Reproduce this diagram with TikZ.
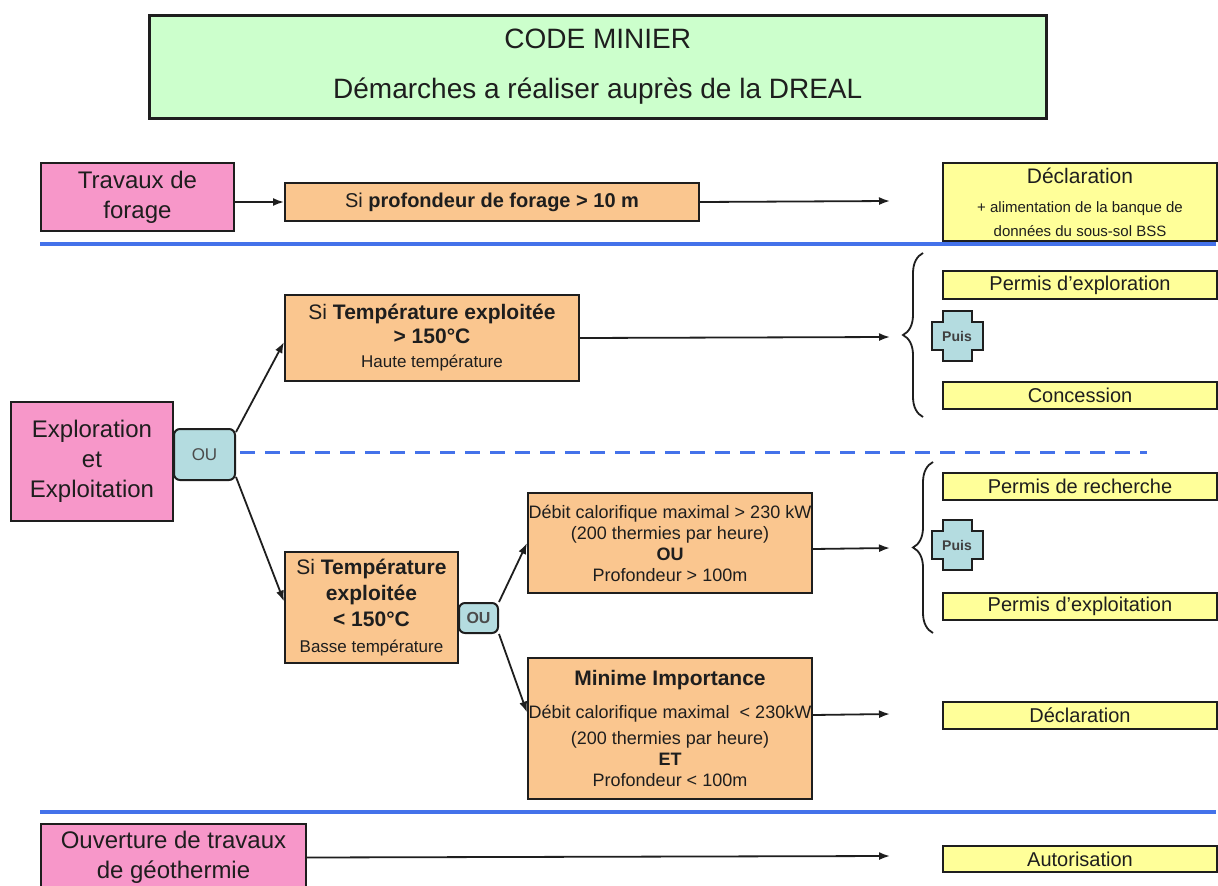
\documentclass[tikz,border=0pt]{standalone}
\usepackage{fontspec}
\setmainfont{Liberation Sans}
\usetikzlibrary{arrows.meta,decorations.pathreplacing}
\definecolor{pinkbox}{HTML}{F797C9}
\definecolor{orangebox}{HTML}{FAC68F}
\definecolor{yellowbox}{HTML}{FFFF99}
\definecolor{bluebox}{HTML}{B4DCE0}
\definecolor{greenbox}{HTML}{CCFFCC}
\definecolor{sepblue}{HTML}{4472EA}
\definecolor{ink}{HTML}{1E1E1E}
\newcommand{\fs}[2]{\fontsize{#1}{#2}\selectfont}
\begin{document}
\begin{tikzpicture}[x=1pt,y=-1pt,
  box/.style={draw=ink, line width=2pt, inner sep=0pt, anchor=north west, align=center, text=ink},
  pinkb/.style={box, fill=pinkbox, font=\fs{24}{30}},
  orangeb/.style={box, fill=orangebox},
  yellowb/.style={box, fill=yellowbox, font=\fs{20}{24}},
  oub/.style={draw=ink, line width=2pt, fill=bluebox, rounded corners=6pt, inner sep=0pt, anchor=north west, text=ink!80},
  arr/.style={draw=ink, line width=1.8pt, -{Latex[length=11pt,width=8pt]}},
  sepline/.style={draw=sepblue, line width=4pt},
  curly/.style={draw=ink, decorate, decoration={brace, amplitude=20pt}, line width=1.8pt},
  puiscross/.pic={\filldraw[fill=bluebox, draw=ink, line width=2pt]
     (-14.5,-25) -- (14.5,-25) -- (14.5,-14) -- (25.5,-14) -- (25.5,14) -- (14.5,14) -- (14.5,25)
     -- (-14.5,25) -- (-14.5,14) -- (-25.5,14) -- (-25.5,-14) -- (-14.5,-14) -- cycle;},
  puistext/.style={font=\fs{14}{16}\bfseries, text=ink!85, inner sep=0pt}
]
\useasboundingbox (0,0) rectangle (1218,886);
\fill[white] (0,0) rectangle (1218,886);

% Title
\node[box, fill=greenbox, line width=2.5pt, minimum width=897pt, minimum height=103pt, font=\fs{28}{50}] (title) at (148,14)
  {CODE MINIER\\Démarches a réaliser auprès de la DREAL};

% Row 1: forage
\node[pinkb, minimum width=193pt, minimum height=68pt] (forage) at (40,162) {Travaux de\\forage};
\node[orangeb, minimum width=414pt, minimum height=38pt, font=\fs{20}{24}] (cond1) at (284,182) {Si \textbf{profondeur de forage > 10 m}};
\node[yellowb, minimum width=274pt, minimum height=78pt] (decl1) at (942,162)
  {\fs{21}{24}Déclaration\\[5pt]\fs{15}{18}+ alimentation de la banque de\\\fs{15}{17}données du sous-sol BSS};
\coordinate (t1) at (890,201);
\draw[arr] (forage.east |- cond1) -- (cond1.west);
\draw[arr] (cond1.east) -- (t1);

\draw[sepline] (40,244) -- (1216,244);

% Exploration
\node[pinkb, minimum width=162pt, minimum height=119pt] (explo) at (10,401) {Exploration\\et\\Exploitation};
\node[oub, minimum width=61pt, minimum height=51pt, font=\fs{17}{20}] (ou1) at (173,428) {OU};

\node[orangeb, minimum width=294pt, minimum height=86pt, font=\fs{21}{24}] (hot) at (284,294)
  {Si \textbf{Température exploitée}\\\textbf{> 150°C}\\\fs{17}{21}Haute température};
\node[orangeb, minimum width=173pt, minimum height=111pt, font=\fs{21}{26}] (cold) at (284,551)
  {Si \textbf{Température}\\\textbf{exploitée}\\\textbf{< 150°C}\\\fs{17}{20}Basse température};
\node[oub, minimum width=39pt, minimum height=30pt, font=\fs{16}{18}\bfseries] (ou2) at (458,602) {OU};

\node[orangeb, minimum width=284pt, minimum height=100pt, font=\fs{18}{21}] (debit) at (527,492)
  {Débit calorifique maximal > 230 kW\\(200 thermies par heure)\\\textbf{OU}\\Profondeur > 100m};
\node[orangeb, minimum width=284pt, minimum height=141pt, font=\fs{18}{21}] (minime) at (527,657)
  {\fs{21}{24}\textbf{Minime Importance}\\[12pt]\fs{18}{21}Débit calorifique maximal\ \ < 230kW\\[5pt]\fs{18}{21}(200 thermies par heure)\\\fs{18}{21}\textbf{ET}\\\fs{18}{21}Profondeur < 100m};

\draw[arr] ([yshift=-4pt]ou1.north east) -- ([yshift=-4pt]hot.west);
\draw[arr] ([yshift=4pt]ou1.south east) -- ([yshift=6pt]cold.west);
\draw[arr] (ou2.north east) -- (debit.west);
\draw[arr] (ou2.south east) -- ([yshift=16pt]minime.west);

\coordinate (t2) at (890,337);
\coordinate (t3) at (890,548);
\coordinate (t4) at (890,714);
\draw[arr] (hot.east) -- (t2);
\draw[arr] ([yshift=-6pt]debit.east) -- (t3);
\draw[arr] ([yshift=13.5pt]minime.east) -- (t4);

% Upper results
\draw[curly] (923,417) -- (923,253);
\node[yellowb, minimum width=274pt, minimum height=28pt] (pexplo) at (942,270) {Permis d’exploration};
\node[yellowb, minimum width=274pt, minimum height=27pt] (conc) at (942,381) {Concession};
\pic at (957,336) {puiscross};
\node[puistext] (puis1) at (957,336) {Puis};

\draw[sepblue, line width=3pt, dash pattern=on 15pt off 10pt] (240,452) -- (1147,452);

% Lower results
\draw[curly] (933,633) -- (933,462);
\node[yellowb, minimum width=274pt, minimum height=27pt] (prech) at (942,472) {Permis de recherche};
\node[yellowb, minimum width=274pt, minimum height=27pt] (pexploit) at (942,592) {Permis d’exploitation};
\pic at (957,545) {puiscross};
\node[puistext] (puis2) at (957,545) {Puis};
\node[yellowb, minimum width=274pt, minimum height=27pt] (decl2) at (942,701) {Déclaration};

\draw[sepline] (40,812) -- (1216,812);

% Ouverture
\node[pinkb, minimum width=265pt, minimum height=67pt] (ouv) at (40,823) {Ouverture de travaux\\de géothermie};
\node[yellowb, minimum width=274pt, minimum height=26pt] (autor) at (942,845) {Autorisation};
\coordinate (t5) at (890,856);
\draw[arr] (ouv.east) -- (t5);
\end{tikzpicture}
\end{document}
